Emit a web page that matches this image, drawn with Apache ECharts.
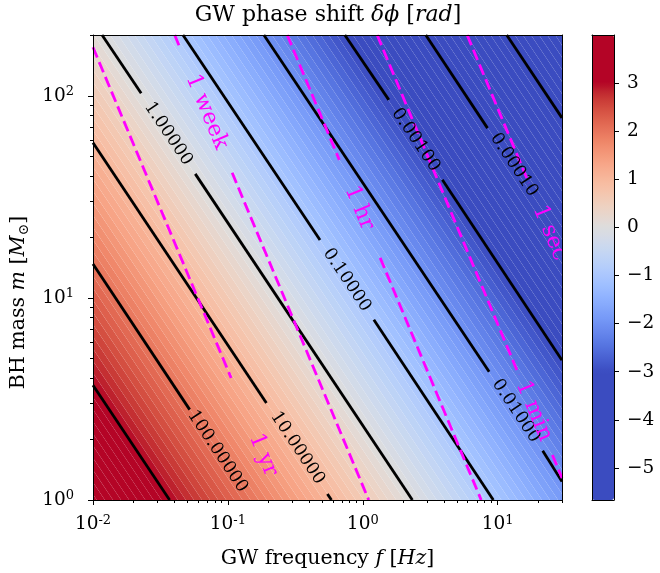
<!DOCTYPE html>
<html><head><meta charset="utf-8">
<script src="https://cdn.jsdelivr.net/npm/echarts@6/dist/echarts.min.js"></script>
<style>html,body{margin:0;padding:0;background:#fff}#c{width:660px;height:573px}</style>
</head><body><div id="c"></div>
<script>
// ================= DATA =================
// filled-contour bands of log10(phase shift): band edges (levels) and where each edge meets m = 1 Msun (log10 f)
const bandEdgeLevels = [4.0,3.9,3.8,3.7,3.6,3.5,3.4,3.3,3.2,3.1,3.0,2.9,2.8,2.7,2.6,2.5,2.4,2.3,2.2,2.1,2.0,1.9,1.8,1.7,1.6,1.5,1.4,1.3,1.2,1.1,1.0,0.9,0.8,0.7,0.6,0.5,0.4,0.3,0.2,0.1,0.0,-0.1,-0.2,-0.3,-0.4,-0.5,-0.6,-0.7,-0.8,-0.9,-1.0,-1.1,-1.2,-1.3,-1.4,-1.5,-1.6,-1.7,-1.8,-1.9,-2.0,-2.1,-2.2,-2.3,-2.4,-2.5,-2.6,-2.7,-2.8,-2.9,-3.0,-3.1,-3.2,-3.3,-3.4,-3.5,-3.6,-3.7,-3.8,-3.9,-4.0,-4.1,-4.2,-4.3,-4.4,-4.5,-4.6,-4.7,-4.8,-4.9,-5.0,-5.1,-5.2,-5.3,-5.4,-5.5,-5.6,-5.7];
const bandEdgeLogFreq = [-2.032,-1.972,-1.912,-1.852,-1.792,-1.732,-1.672,-1.612,-1.552,-1.492,-1.432,-1.372,-1.312,-1.252,-1.192,-1.132,-1.072,-1.012,-0.952,-0.892,-0.832,-0.772,-0.712,-0.652,-0.592,-0.532,-0.472,-0.412,-0.352,-0.292,-0.232,-0.172,-0.112,-0.052,0.008,0.068,0.128,0.188,0.248,0.308,0.368,0.428,0.488,0.548,0.608,0.668,0.728,0.788,0.848,0.908,0.968,1.028,1.088,1.148,1.208,1.268,1.328,1.388,1.448,1.508,1.568,1.628,1.688,1.748,1.808,1.868,1.928,1.988,2.048,2.108,2.168,2.228,2.288,2.348,2.408,2.468,2.528,2.588,2.648,2.708,2.768,2.828,2.888,2.948,3.008,3.068,3.128,3.188,3.248,3.308,3.368,3.428,3.488,3.548,3.608,3.668,3.728,3.788];
// slope of the iso-phase lines (decades of m per decade of f)
const isoLineSlope = -1.0;

// black iso-phase contour segments [f0, m0, f1, m1] (gaps left where labels sit)
const contourSegments = [
  [0.01, 3.70, 0.0370, 1],        // 0  1000
  [0.01, 14.72, 0.0521, 2.80],    // 1  100
  [0.01, 58.6, 0.193, 3.02],      // 2  10
  [0.547, 1.072, 0.586, 1],       // 3  10
  [0.01167, 200, 0.02275, 103.0], // 4  1
  [0.0573, 41.1, 2.333, 1],       // 5  1
  [0.04645, 200, 0.482, 19.36],   // 6  0.1
  [1.208, 7.80, 9.29, 1],         // 7  0.1
  [0.1849, 200, 8.65, 4.31],      // 8  0.01
  [21.58, 1.754, 30, 1.233],      // 9  0.01
  [0.7362, 200, 1.560, 95.5],     // 10 0.001
  [3.890, 38.4, 30, 4.91],        // 11 0.001
  [2.931, 200, 8.41, 69.2],       // 12 0.0001
  [11.67, 200, 30, 77.8]          // 13 0.00001
];
const contourLabelText = ['100.00000','10.00000','1.00000','0.10000','0.01000','0.00100','0.00010'];
const contourLabelFreq = [0.0838, 0.328, 0.03614, 0.763, 13.65, 2.466, 13.21];
const contourLabelMass = [1.742, 1.807, 65.0, 12.27, 2.761, 60.5, 45.5];
const contourLabelSeg  = [1, 2, 4, 6, 8, 10, 12];

// magenta time-to-merger segments [f0, m0, f1, m1]
const timeSegments = [
  [0.01, 173.8, 0.1057, 4.018],   // 0 1 yr
  [0.04036, 200, 0.04477, 169.0], // 1 1 week
  [0.1076, 41.6, 1.107, 1],       // 2 1 week
  [0.2754, 200, 0.6699, 48.2],    // 3 1 hr
  [1.346, 15.78, 7.551, 1],       // 4 1 hr
  [1.279, 200, 14.35, 4.169],     // 5 1 min
  [25.47, 1.670, 30, 1.285],      // 6 1 min
  [5.943, 200, 17.02, 37.07]      // 7 1 sec
];
const timeLabelText = ['1 yr','1 week','1 hr','1 min','1 sec'];
const timeLabelFreq = [0.1828, 0.06966, 0.9430, 18.61, 24.32];
const timeLabelMass = [1.671, 83.4, 27.9, 2.758, 20.98];
const timeLabelSeg  = [0, 2, 4, 6, 7];

// axes
const freqMajorTicks = [0.01, 0.1, 1, 10];
const freqMinorTicks = [0.02,0.03,0.04,0.05,0.06,0.07,0.08,0.09,0.2,0.3,0.4,0.5,0.6,0.7,0.8,0.9,2,3,4,5,6,7,8,9,20,30];
const massMajorTicks = [1, 10, 100];
const massMinorTicks = [2,3,4,5,6,7,8,9,20,30,40,50,60,70,80,90,200];
const colorbarTicks = [-5,-4,-3,-2,-1,0,1,2,3];
const colorbarMin = -5.665, colorbarMax = 3.997;

// ================= STYLE =================
const FONT = '"DejaVu Serif", serif';
const NORM_MIN = -3, NORM_MAX = 3;
const COOLWARM = [[59,76,192],[68,90,204],[77,104,215],[87,117,225],[98,130,234],[108,142,241],[119,154,247],[130,165,251],[141,176,254],[152,185,255],[163,194,255],[174,201,253],[184,208,249],[194,213,244],[204,217,238],[213,219,230],[221,221,221],[229,216,209],[236,211,197],[241,204,184],[245,196,172],[247,187,160],[247,177,148],[247,166,137],[244,154,123],[241,141,111],[236,127,99],[229,112,88],[222,96,77],[213,80,66],[203,62,56],[192,40,47],[180,4,38]];
function cw(t){
  t = Math.max(0, Math.min(1, t));
  const x = t*32, i = Math.min(31, Math.floor(x)), f = x - i;
  const a = COOLWARM[i], b = COOLWARM[i+1];
  return 'rgb(' + [0,1,2].map(k => Math.round(a[k] + (b[k]-a[k])*f)).join(',') + ')';
}
const vmColors = [];
for (let n = 0; n <= 240; n++) {
  const v = colorbarMin + (colorbarMax - colorbarMin) * n / 240;
  vmColors.push(cw((v - NORM_MIN) / (NORM_MAX - NORM_MIN)));
}

// band table: [f where lower edge meets m=1, f where upper edge meets m=1, band level]
const bands = [];
for (let i = 0; i + 1 < bandEdgeLevels.length; i++) {
  bands.push([Math.pow(10, bandEdgeLogFreq[i]), Math.pow(10, bandEdgeLogFreq[i+1]),
              (bandEdgeLevels[i] + bandEdgeLevels[i+1]) / 2]);
}

const supRich = {
  b: {fontFamily: FONT, fontSize: 18.5, color: '#000', lineHeight: 21},
  s: {fontFamily: FONT, fontSize: 13, color: '#000', lineHeight: 14, verticalAlign: 'top'}
};
function powLabel(v){
  const e = Math.round(Math.log10(v));
  return '{b|10}{s|' + e + '}';
}
const lineAxisStyle = {show: true, onZero: false, lineStyle: {color: '#000', width: 1}};

function labelSeries(texts, fs, ms, segIdx, segs, color, font) {
  return {
    type: 'custom', xAxisIndex: 0, yAxisIndex: 0, clip: true, silent: true, z: 6,
    data: fs.map((f, i) => [f, ms[i]]),
    encode: {x: 0, y: 1},
    renderItem: function (params, api) {
      const i = params.dataIndex;
      const p = api.coord([api.value(0), api.value(1)]);
      const s = segs[segIdx[i]];
      const a = api.coord([s[0], s[1]]), b = api.coord([s[2], s[3]]);
      const ang = Math.atan2(b[1]-a[1], b[0]-a[0]);
      return {type: 'text', x: p[0], y: p[1], rotation: -ang,
        style: {text: texts[i], fill: color, font: font, align: 'center', verticalAlign: 'middle'}};
    }
  };
}

const chart = echarts.init(document.getElementById('c'), null, {renderer: 'canvas'});
chart.setOption({
  animation: false,
  backgroundColor: '#fff',
  grid: [
    {left: 93, top: 35, width: 469, height: 465, containLabel: false, outerBoundsMode: 'none'},
    {left: 592, top: 35, width: 22, height: 465, containLabel: false, outerBoundsMode: 'none'}
  ],
  graphic: [{
    type: 'text', x: 328, y: 15, z: 100,
    style: {
      text: '{n|GW phase shift }{i|δϕ}{n| [}{i|rad}{n|]}',
      align: 'center', verticalAlign: 'middle',
      rich: {
        n: {fontFamily: FONT, fontSize: 22, fill: '#000', color: '#000'},
        i: {fontFamily: FONT, fontSize: 22, fontStyle: 'italic', fill: '#000', color: '#000'}
      }
    }
  }],
  xAxis: [
    {gridIndex: 0, type: 'log', min: 0.01, max: 30, position: 'bottom', z: 10,
     axisLine: lineAxisStyle,
     axisTick: {show: true, inside: false, length: 5, lineStyle: {color: '#000', width: 1}, customValues: freqMajorTicks},
     axisLabel: {show: true, customValues: freqMajorTicks, margin: 14, formatter: powLabel, rich: supRich},
     splitLine: {show: false},
     name: '{n|GW frequency }{i|f}{n| [}{i|Hz}{n|]}', nameLocation: 'middle', nameGap: 48,
     nameTextStyle: {rich: {
       n: {fontFamily: FONT, fontSize: 20.5, color: '#000'},
       i: {fontFamily: FONT, fontSize: 20.5, fontStyle: 'italic', color: '#000'}}}},
    {gridIndex: 0, type: 'log', min: 0.01, max: 30, position: 'bottom', z: 10,
     axisLine: {show: false},
     axisTick: {show: true, inside: false, length: 3, lineStyle: {color: '#000', width: 1}, customValues: freqMinorTicks},
     axisLabel: {show: false}, splitLine: {show: false}},
    {gridIndex: 0, type: 'log', min: 0.01, max: 30, position: 'top', z: 10,
     axisLine: lineAxisStyle, axisTick: {show: false}, axisLabel: {show: false}, splitLine: {show: false}},
    {gridIndex: 1, type: 'value', min: 0, max: 1, position: 'bottom', z: 10,
     axisLine: lineAxisStyle, axisTick: {show: false}, axisLabel: {show: false}, splitLine: {show: false}},
    {gridIndex: 1, type: 'value', min: 0, max: 1, position: 'top', z: 10,
     axisLine: lineAxisStyle, axisTick: {show: false}, axisLabel: {show: false}, splitLine: {show: false}}
  ],
  yAxis: [
    {gridIndex: 0, type: 'log', min: 1, max: 200, position: 'left', z: 10,
     axisLine: lineAxisStyle,
     axisTick: {show: true, inside: false, length: 5, lineStyle: {color: '#000', width: 1}, customValues: massMajorTicks},
     axisLabel: {show: true, customValues: massMajorTicks, margin: 19, formatter: powLabel, rich: supRich},
     splitLine: {show: false},
     name: '{n|BH mass }{i|m}{n| [}{i|M}{s|⊙}{n|]}', nameLocation: 'middle', nameGap: 62,
     nameTextStyle: {padding: [0, 70, 0, 0], rich: {
       n: {fontFamily: FONT, fontSize: 20.5, color: '#000', lineHeight: 24},
       i: {fontFamily: FONT, fontSize: 20.5, fontStyle: 'italic', color: '#000', lineHeight: 24},
       s: {fontFamily: FONT, fontSize: 14, color: '#000', lineHeight: 12, verticalAlign: 'bottom'}}}},
    {gridIndex: 0, type: 'log', min: 1, max: 200, position: 'left', z: 10,
     axisLine: {show: false},
     axisTick: {show: true, inside: false, length: 3, lineStyle: {color: '#000', width: 1}, customValues: massMinorTicks},
     axisLabel: {show: false}, splitLine: {show: false}},
    {gridIndex: 0, type: 'log', min: 1, max: 200, position: 'right', z: 10,
     axisLine: lineAxisStyle, axisTick: {show: false}, axisLabel: {show: false}, splitLine: {show: false}},
    {gridIndex: 1, type: 'value', min: colorbarMin, max: colorbarMax, position: 'right', z: 10,
     axisLine: lineAxisStyle,
     axisTick: {show: true, inside: false, length: 5, lineStyle: {color: '#000', width: 1}, customValues: colorbarTicks},
     axisLabel: {show: true, customValues: colorbarTicks, margin: 13, fontFamily: FONT, fontSize: 18.5, color: '#000',
       formatter: v => String(v).replace('-', '\u2212')},
     splitLine: {show: false}},
    {gridIndex: 1, type: 'value', min: colorbarMin, max: colorbarMax, position: 'left', z: 10,
     axisLine: lineAxisStyle, axisTick: {show: false}, axisLabel: {show: false}, splitLine: {show: false}}
  ],
  visualMap: [{
    type: 'continuous', seriesIndex: 0, dimension: 2,
    min: colorbarMin, max: colorbarMax, calculable: false, hoverLink: false, realtime: false,
    orient: 'vertical', left: 592, top: 35, itemWidth: 22, itemHeight: 465, padding: 0,
    inRange: {color: vmColors}, z: 4
  }],
  series: [
    {
      type: 'custom', xAxisIndex: 0, yAxisIndex: 0, clip: true, silent: true, z: 1,
      data: bands, encode: {x: [0, 1]},
      renderItem: function (params, api) {
        const la = Math.log10(api.value(0)), lb = Math.log10(api.value(1));
        const lmLo = -0.5, lmHi = 3;
        const pt = (lf0, lm) => api.coord([Math.pow(10, lf0 + lm / isoLineSlope), Math.pow(10, lm)]);
        return {type: 'polygon',
          shape: {points: [pt(la, lmLo), pt(lb, lmLo), pt(lb, lmHi), pt(la, lmHi)]},
          style: {fill: api.visual('color'), stroke: null}};
      }
    },
    {
      type: 'lines', coordinateSystem: 'cartesian2d', xAxisIndex: 0, yAxisIndex: 0, silent: true, z: 3,
      lineStyle: {color: '#000', width: 2.8, opacity: 1, cap: 'butt'},
      data: contourSegments.map(s => ({coords: [[s[0], s[1]], [s[2], s[3]]]}))
    },
    {
      type: 'lines', coordinateSystem: 'cartesian2d', xAxisIndex: 0, yAxisIndex: 0, silent: true, z: 4,
      lineStyle: {color: '#ff00ff', width: 2.8, opacity: 1, type: [11, 5], cap: 'butt'},
      data: timeSegments.map(s => ({coords: [[s[0], s[1]], [s[2], s[3]]]}))
    },
    labelSeries(contourLabelText, contourLabelFreq, contourLabelMass, contourLabelSeg, contourSegments, '#000', '17.5px ' + FONT),
    labelSeries(timeLabelText, timeLabelFreq, timeLabelMass, timeLabelSeg, timeSegments, '#ff00ff', '22px ' + FONT)
  ]
});
</script>
</body></html>
